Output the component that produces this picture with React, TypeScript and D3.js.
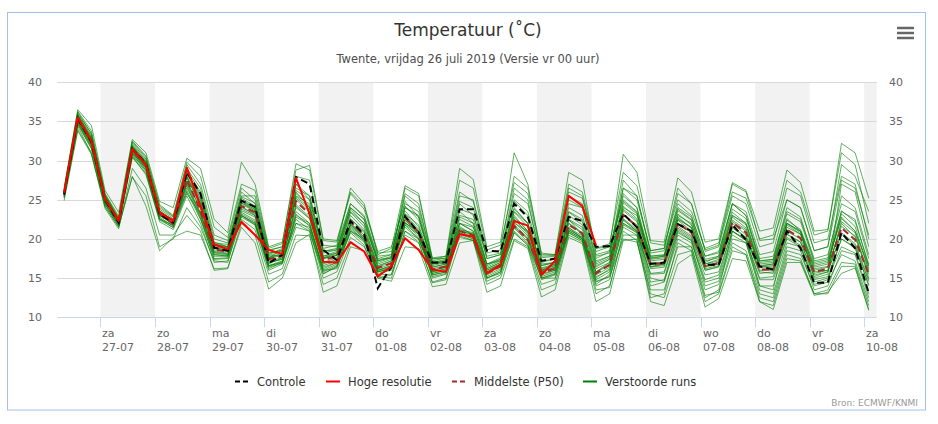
import React, { useEffect, useRef } from 'react';
import * as d3 from 'd3';

// time axis: hours since za 27-07 00:00, one value every 6 hours
const hours = d3.range(-16, 339, 6);

const dayNames = ['za', 'zo', 'ma', 'di', 'wo', 'do', 'vr', 'za', 'zo', 'ma', 'di', 'wo', 'do', 'vr', 'za'];
const dayDates = ['27-07', '28-07', '29-07', '30-07', '31-07', '01-08', '02-08', '03-08', '04-08', '05-08', '06-08', '07-08', '08-08', '09-08', '10-08'];
const yTicks = [10, 15, 20, 25, 30, 35, 40];

const controle = [
  25.7, 35.4, 32.4, 25.0, 22.1, 31.5, 29.6, 23.2, 22.1,
  28.5, 25.8, 18.9, 18.5, 24.9, 24.1, 16.9, 18.0,
  27.9, 27.0, 18.6, 17.3, 22.3, 20.6, 13.7, 16.5,
  22.9, 20.8, 17.0, 17.0, 23.8, 23.8, 18.5, 18.4,
  24.5, 22.8, 17.2, 17.5, 22.8, 22.3, 19.0, 19.1,
  23.2, 21.5, 16.8, 17.0, 21.9, 21.0, 16.7, 16.7,
  21.8, 19.9, 16.5, 16.1, 21.0, 18.8, 14.4, 14.4,
  20.8, 18.8, 13.1,
];

const hogeResolutie = [
  25.9, 35.5, 32.5, 25.1, 22.3, 31.5, 29.5, 23.4, 22.3,
  29.1, 24.2, 19.3, 18.7, 22.2, 20.5, 18.6, 18.1,
  27.8, 23.2, 17.1, 17.0, 19.6, 18.4, 15.2, 16.5,
  20.1, 18.6, 16.1, 15.8, 20.6, 20.3, 15.6, 16.7,
  22.3, 21.7, 15.4, 17.2, 25.5, 24.2, 19.2,
];

const middelste = [
  25.8, 35.3, 32.4, 25.0, 22.2, 31.3, 29.4, 23.2, 21.9,
  27.6, 23.6, 18.6, 18.4, 24.2, 23.4, 17.4, 17.8,
  24.8, 23.2, 17.3, 17.8, 22.2, 20.5, 16.3, 16.9,
  22.8, 20.8, 16.1, 16.5, 21.0, 20.5, 15.6, 16.5,
  21.7, 19.9, 15.7, 16.2, 21.8, 20.7, 15.6, 16.7,
  23.1, 21.6, 16.8, 16.9, 22.0, 20.8, 16.5, 16.9,
  22.1, 20.8, 16.1, 16.1, 21.2, 20.1, 15.8, 16.2,
  21.4, 19.9, 15.5,
];

const verstoordeRuns = [
  [26.2, 36.0, 33.5, 25.6, 22.6, 32.2, 30.2, 24.0, 22.8, 29.5, 27.0, 20.5, 19.8, 26.5, 25.0, 18.5, 19.0, 27.0, 25.5, 18.8, 19.2, 24.5, 22.8, 17.5, 18.0, 25.8, 24.5, 17.2, 17.6, 27.5, 26.5, 18.6, 19.2, 27.2, 25.8, 17.8, 17.9, 26.0, 25.2, 18.8, 19.4, 28.5, 26.8, 19.5, 19.2, 25.0, 23.5, 18.8, 19.5, 26.0, 25.2, 20.0, 20.5, 27.5, 26.0, 20.5, 21.0, 32.2, 31.0, 25.2],
  [25.2, 34.0, 31.0, 24.2, 21.5, 28.0, 24.2, 18.5, 20.2, 21.0, 20.5, 16.2, 16.3, 21.5, 19.5, 13.6, 15.0, 19.5, 20.6, 13.2, 14.0, 19.0, 18.5, 15.0, 14.6, 19.0, 18.8, 13.9, 14.2, 19.5, 19.8, 13.2, 14.0, 19.8, 18.8, 12.6, 13.5, 20.2, 19.4, 12.0, 13.0, 19.8, 20.0, 12.0, 11.5, 16.8, 18.0, 11.3, 12.4, 17.5, 17.2, 12.0, 11.0, 17.0, 17.0, 12.8, 13.2, 15.6, 16.3, 10.9],
  [25.9, 35.6, 32.8, 25.3, 22.4, 31.6, 29.8, 23.6, 22.3, 28.4, 25.0, 19.2, 18.9, 25.0, 24.0, 17.9, 18.4, 25.8, 24.2, 17.8, 18.2, 23.0, 21.2, 16.8, 17.4, 23.6, 21.5, 16.6, 17.0, 22.5, 21.6, 16.4, 17.2, 23.0, 21.0, 16.3, 16.8, 23.0, 21.8, 16.4, 17.4, 24.2, 22.6, 17.4, 17.6, 23.2, 21.8, 17.2, 17.6, 23.4, 22.0, 17.0, 17.2, 22.6, 21.0, 16.6, 17.0, 22.8, 21.0, 16.2],
  [25.6, 35.0, 32.0, 24.8, 22.0, 31.0, 29.0, 22.8, 21.6, 27.0, 23.0, 18.2, 18.0, 23.6, 22.8, 17.0, 17.4, 24.0, 22.6, 16.8, 17.4, 21.6, 20.0, 16.0, 16.6, 22.2, 20.2, 15.8, 16.2, 20.6, 20.0, 15.2, 16.0, 21.0, 19.4, 15.2, 15.8, 21.2, 20.2, 15.0, 16.2, 22.4, 21.0, 16.2, 16.4, 21.4, 20.2, 16.0, 16.4, 21.4, 20.2, 15.6, 15.8, 20.6, 19.6, 15.2, 15.8, 20.8, 19.4, 14.8],
  [26.4, 36.3, 33.8, 25.8, 22.9, 32.5, 30.6, 24.4, 23.0, 29.8, 28.0, 21.5, 20.2, 27.0, 26.2, 18.8, 19.4, 29.6, 28.8, 19.8, 19.6, 25.8, 23.8, 18.2, 18.4, 24.8, 22.8, 16.8, 17.2, 24.5, 23.0, 17.8, 18.2, 24.8, 23.0, 16.0, 16.2, 22.5, 20.5, 14.5, 15.2, 21.5, 20.5, 14.0, 14.5, 20.0, 19.0, 13.5, 14.2, 19.5, 18.5, 13.0, 12.5, 18.5, 18.0, 14.0, 14.5, 18.0, 17.2, 12.0],
  [25.4, 34.6, 31.5, 24.4, 21.8, 30.4, 28.4, 22.2, 21.2, 25.5, 22.0, 17.0, 17.2, 22.5, 21.2, 15.5, 16.2, 21.5, 21.0, 15.0, 15.8, 20.2, 19.0, 15.4, 15.5, 20.5, 19.5, 14.5, 15.0, 21.0, 20.2, 15.0, 15.6, 22.0, 21.0, 16.0, 16.8, 24.5, 24.0, 17.5, 18.4, 26.5, 25.0, 18.5, 18.8, 26.5, 24.5, 18.6, 19.2, 27.0, 26.0, 19.8, 20.0, 25.0, 24.0, 18.5, 19.0, 27.5, 26.5, 20.5],
  [25.8, 35.4, 32.6, 25.2, 22.2, 31.8, 29.6, 23.0, 22.0, 28.8, 26.0, 19.6, 19.0, 26.0, 24.5, 17.6, 18.6, 26.5, 25.5, 18.4, 18.8, 24.0, 22.5, 17.4, 17.6, 26.5, 25.5, 17.4, 17.8, 29.0, 27.6, 19.0, 19.6, 31.0, 27.0, 18.0, 18.0, 28.5, 27.5, 18.0, 18.5, 25.5, 24.0, 17.0, 17.0, 22.5, 21.5, 16.0, 16.5, 22.0, 20.5, 16.0, 16.0, 21.0, 20.0, 15.8, 16.0, 22.0, 20.2, 15.5],
  [25.5, 35.0, 32.2, 25.0, 22.0, 30.8, 28.8, 22.5, 21.8, 26.5, 23.4, 18.0, 17.8, 24.2, 23.0, 16.6, 17.0, 22.8, 21.8, 15.8, 16.6, 21.0, 19.6, 15.6, 16.0, 21.5, 20.0, 15.2, 15.6, 20.2, 19.8, 14.2, 15.0, 20.0, 19.0, 13.5, 14.2, 20.5, 19.6, 13.0, 14.0, 20.5, 20.5, 13.0, 12.5, 18.0, 18.5, 12.0, 13.0, 18.5, 18.0, 12.5, 12.0, 18.0, 17.5, 13.0, 13.5, 17.0, 16.8, 11.5],
  [26.0, 35.8, 33.0, 25.4, 22.4, 32.0, 30.0, 23.8, 22.6, 29.0, 26.5, 20.0, 19.5, 25.5, 25.5, 18.6, 19.0, 28.0, 27.5, 19.2, 19.0, 26.5, 24.5, 18.0, 18.8, 26.8, 25.8, 17.6, 17.8, 26.0, 24.8, 17.5, 18.0, 26.5, 25.0, 17.0, 17.5, 25.5, 24.5, 17.8, 18.2, 27.5, 25.5, 18.2, 18.5, 24.0, 22.8, 17.8, 18.4, 24.5, 23.0, 17.5, 17.8, 23.5, 22.5, 17.5, 18.0, 24.5, 23.5, 17.5],
  [24.9, 33.8, 30.8, 23.9, 21.3, 29.0, 26.5, 20.5, 20.5, 23.0, 21.0, 16.0, 16.2, 22.0, 20.5, 14.5, 15.5, 20.5, 20.4, 14.2, 15.0, 19.5, 18.4, 15.2, 15.0, 21.0, 20.0, 15.6, 16.0, 21.0, 20.6, 15.8, 16.6, 21.6, 20.0, 15.8, 16.4, 22.0, 20.8, 15.8, 16.8, 23.0, 21.8, 16.8, 16.8, 22.0, 20.8, 16.6, 17.0, 22.2, 21.0, 16.4, 16.4, 21.5, 20.6, 16.0, 16.4, 21.6, 20.4, 15.8],
  [26.1, 35.9, 33.2, 25.5, 22.5, 31.9, 29.9, 23.5, 22.4, 28.0, 24.5, 19.0, 18.8, 24.8, 23.8, 17.6, 18.2, 25.0, 23.5, 17.5, 17.9, 22.5, 21.0, 16.5, 17.2, 23.2, 21.8, 16.4, 16.8, 22.0, 21.0, 16.0, 16.8, 22.5, 20.8, 16.0, 16.6, 22.5, 21.5, 16.2, 17.0, 24.0, 23.0, 17.5, 17.8, 24.5, 23.0, 17.8, 18.2, 24.5, 23.5, 18.0, 18.4, 25.0, 24.0, 18.5, 19.0, 29.5, 28.0, 23.5],
  [25.7, 35.2, 32.2, 24.9, 22.1, 31.2, 29.2, 23.0, 21.9, 27.2, 24.0, 18.4, 18.2, 23.0, 22.0, 16.8, 17.6, 23.5, 22.0, 16.2, 17.0, 22.0, 20.5, 16.2, 16.8, 22.5, 20.5, 16.0, 16.4, 21.2, 20.4, 15.6, 16.4, 21.8, 20.2, 15.0, 15.5, 21.0, 20.0, 14.2, 15.5, 22.0, 21.0, 15.0, 14.6, 20.5, 19.5, 14.5, 15.0, 20.5, 19.5, 14.0, 14.0, 19.5, 19.0, 14.5, 15.0, 19.0, 18.2, 13.0],
  [26.3, 36.2, 33.4, 25.7, 22.7, 32.4, 30.4, 24.2, 22.9, 28.2, 25.8, 19.5, 19.3, 25.2, 24.2, 18.0, 18.8, 26.0, 24.0, 17.8, 18.4, 23.5, 22.0, 17.2, 17.8, 24.0, 23.0, 17.0, 17.4, 23.5, 22.0, 16.8, 17.6, 25.0, 23.5, 17.2, 17.4, 26.5, 25.5, 18.4, 19.0, 30.8, 28.5, 19.8, 19.6, 27.8, 26.0, 19.6, 20.0, 27.2, 26.2, 21.0, 21.4, 28.8, 27.2, 21.0, 21.2, 31.0, 29.5, 22.0],
  [25.3, 34.4, 30.9, 24.1, 21.6, 27.9, 25.5, 19.0, 20.0, 24.0, 21.5, 17.2, 17.0, 23.0, 21.8, 16.0, 16.8, 22.0, 21.5, 16.0, 16.2, 21.0, 20.0, 15.8, 16.2, 22.0, 21.0, 15.4, 15.8, 22.0, 21.5, 16.2, 17.0, 23.5, 22.0, 16.6, 17.0, 23.5, 22.5, 16.8, 17.6, 22.5, 21.0, 15.5, 15.6, 21.0, 19.8, 14.8, 15.4, 21.0, 19.8, 14.8, 14.8, 20.0, 19.0, 14.2, 14.8, 20.0, 19.0, 14.0],
  [26.5, 36.5, 34.5, 26.2, 23.4, 32.7, 31.0, 24.8, 24.0, 30.3, 29.0, 22.5, 20.8, 29.8, 27.0, 19.0, 19.6, 28.8, 29.4, 20.0, 19.8, 26.0, 24.2, 18.4, 19.0, 24.5, 23.5, 17.0, 17.2, 25.5, 25.0, 18.2, 18.6, 28.0, 26.5, 18.2, 18.0, 27.0, 26.0, 18.8, 19.0, 25.0, 23.5, 16.5, 16.8, 23.0, 22.0, 16.5, 17.0, 23.0, 22.0, 16.5, 16.8, 22.0, 21.0, 16.2, 16.5, 23.5, 22.5, 16.5],
  [25.9, 35.5, 32.5, 25.1, 22.3, 31.2, 29.2, 23.1, 22.0, 26.0, 22.5, 17.5, 17.6, 23.2, 22.2, 16.2, 17.0, 23.0, 22.0, 16.0, 16.8, 21.2, 19.8, 15.4, 16.2, 22.0, 21.0, 15.0, 15.5, 23.0, 22.5, 16.8, 17.2, 24.0, 22.0, 15.0, 15.0, 21.0, 20.0, 13.5, 13.8, 21.0, 19.8, 12.5, 13.0, 19.5, 18.5, 12.5, 13.5, 21.0, 20.0, 14.0, 13.5, 22.0, 21.0, 15.0, 15.5, 27.0, 26.0, 19.0],
  [25.8, 35.2, 32.2, 24.8, 22.0, 31.0, 29.0, 23.0, 22.0, 28.0, 24.8, 18.8, 18.6, 24.6, 23.6, 17.8, 18.0, 25.5, 24.5, 17.6, 18.2, 24.0, 22.5, 17.0, 17.6, 24.0, 22.8, 16.8, 17.0, 23.8, 23.2, 16.8, 17.4, 23.8, 22.0, 16.8, 17.0, 24.0, 23.0, 17.0, 17.8, 25.8, 24.0, 17.8, 18.0, 23.8, 22.5, 17.0, 17.8, 24.5, 23.0, 17.2, 17.4, 24.0, 22.8, 17.2, 17.6, 25.5, 24.0, 18.0],
  [25.6, 34.8, 31.8, 24.6, 21.9, 30.6, 28.6, 22.6, 21.4, 26.2, 22.8, 17.4, 17.5, 23.4, 22.4, 16.5, 17.1, 22.5, 21.2, 15.5, 16.5, 20.8, 19.2, 15.0, 15.4, 21.0, 19.6, 14.4, 14.8, 20.8, 20.0, 14.6, 15.4, 20.8, 19.2, 14.2, 14.8, 20.8, 19.8, 14.0, 14.8, 21.8, 20.8, 14.5, 14.8, 20.8, 19.8, 14.0, 14.6, 20.0, 19.5, 13.5, 13.0, 19.0, 18.5, 13.5, 14.0, 18.5, 18.0, 12.5],
  [26.0, 35.7, 32.9, 25.4, 22.5, 31.7, 29.7, 23.4, 22.5, 28.6, 25.5, 19.3, 19.0, 24.8, 24.0, 18.2, 18.5, 27.0, 25.0, 18.5, 18.6, 24.5, 23.0, 17.8, 18.0, 25.5, 24.0, 17.5, 17.5, 24.8, 24.0, 17.5, 18.0, 25.8, 24.5, 17.6, 17.8, 25.0, 24.0, 17.2, 17.8, 26.5, 25.5, 18.5, 18.8, 25.8, 24.5, 18.4, 19.0, 25.5, 24.5, 19.0, 19.5, 26.5, 25.5, 19.5, 20.0, 28.0, 27.0, 20.0],
  [25.5, 34.9, 31.8, 24.5, 21.7, 30.5, 28.2, 22.4, 21.5, 25.8, 23.2, 17.8, 17.8, 23.0, 22.0, 16.6, 17.2, 22.0, 21.0, 15.6, 16.4, 21.8, 20.2, 16.0, 16.4, 21.8, 20.6, 15.4, 15.8, 21.6, 20.4, 15.0, 15.8, 21.5, 20.0, 14.8, 15.4, 21.5, 20.0, 14.6, 15.2, 20.0, 19.6, 13.5, 13.5, 19.0, 19.0, 12.8, 13.2, 19.0, 18.0, 12.0, 11.5, 17.5, 17.2, 13.0, 13.0, 16.5, 16.5, 11.0],
  [25.7, 35.1, 32.1, 24.9, 22.1, 31.1, 29.1, 23.1, 22.0, 27.4, 23.8, 18.3, 18.1, 24.0, 23.2, 17.2, 17.6, 24.4, 22.8, 17.0, 17.6, 22.6, 20.8, 16.4, 17.0, 23.2, 21.2, 16.2, 16.6, 21.4, 20.6, 15.4, 16.2, 22.2, 20.4, 15.4, 16.0, 22.4, 21.2, 15.8, 16.6, 23.6, 22.2, 16.4, 16.6, 22.6, 21.4, 16.8, 17.2, 22.8, 21.4, 16.4, 16.6, 21.8, 20.6, 15.6, 16.0, 22.2, 20.8, 15.0],
  [26.0, 35.5, 32.6, 25.2, 22.3, 31.4, 29.5, 23.3, 22.1, 27.8, 24.4, 18.9, 18.6, 24.6, 23.8, 17.6, 18.0, 25.2, 23.8, 17.6, 18.0, 22.0, 20.2, 16.0, 16.6, 22.4, 20.6, 15.8, 16.2, 20.8, 20.2, 15.8, 16.8, 21.4, 19.6, 15.9, 16.4, 21.4, 20.4, 15.4, 16.4, 22.6, 21.2, 16.4, 16.8, 21.6, 20.4, 16.2, 16.6, 21.6, 20.2, 15.8, 15.6, 20.6, 19.6, 15.4, 15.8, 20.6, 19.2, 14.6],
  [25.6, 35.2, 32.3, 25.0, 22.1, 31.3, 29.3, 23.1, 21.8, 27.2, 23.2, 18.6, 18.4, 24.4, 23.6, 17.5, 17.9, 25.4, 24.0, 17.5, 17.9, 23.4, 21.6, 16.6, 17.2, 23.0, 21.0, 16.4, 16.8, 22.0, 21.0, 16.0, 16.8, 22.8, 21.0, 16.2, 16.6, 22.0, 20.6, 15.2, 16.0, 23.8, 22.4, 17.2, 17.4, 22.8, 21.4, 16.8, 17.4, 23.0, 21.8, 16.6, 16.8, 22.0, 20.8, 16.4, 16.8, 23.2, 21.6, 16.0],
  [25.9, 35.4, 32.5, 25.1, 22.2, 31.5, 29.6, 23.4, 22.2, 27.9, 24.2, 18.8, 18.5, 23.8, 23.0, 17.0, 17.4, 24.2, 22.6, 16.6, 17.2, 21.8, 20.0, 15.8, 16.4, 22.6, 20.8, 16.0, 16.4, 21.2, 20.8, 16.2, 17.0, 22.6, 20.6, 15.6, 16.0, 21.2, 20.2, 15.8, 17.0, 24.6, 23.2, 17.6, 17.8, 22.4, 21.0, 16.4, 16.8, 22.4, 21.2, 16.8, 17.0, 22.4, 21.2, 16.8, 17.2, 22.6, 21.0, 16.6],
  [25.4, 34.7, 31.6, 24.5, 21.8, 30.8, 28.8, 22.6, 21.7, 26.8, 22.6, 18.0, 17.9, 22.8, 21.8, 16.4, 16.9, 23.2, 21.6, 16.4, 17.0, 21.4, 19.8, 15.8, 16.2, 21.8, 20.0, 15.6, 16.0, 20.4, 19.8, 15.0, 15.8, 20.8, 19.2, 15.0, 15.6, 20.8, 19.8, 14.8, 15.8, 22.0, 20.8, 15.6, 15.8, 21.2, 20.0, 15.4, 15.8, 21.0, 19.8, 15.0, 15.2, 20.2, 19.2, 14.8, 15.2, 20.0, 18.8, 14.2],
  [26.1, 35.8, 32.9, 25.4, 22.5, 31.8, 29.8, 23.6, 22.4, 28.6, 25.2, 19.4, 19.0, 25.4, 24.6, 18.2, 18.6, 26.2, 25.0, 18.2, 18.6, 23.8, 22.0, 17.2, 17.6, 24.2, 22.4, 16.8, 17.2, 22.8, 22.0, 16.6, 17.4, 23.4, 21.6, 16.6, 17.0, 23.4, 22.2, 16.6, 17.4, 24.8, 23.4, 17.8, 17.9, 23.6, 22.4, 17.4, 17.8, 23.8, 22.6, 17.2, 17.4, 23.2, 22.2, 17.0, 17.4, 23.6, 22.2, 16.8],
];

const legendItems = [
  { label: 'Controle', color: '#000000', dash: '5,3', sx: 235, tx: 257 },
  { label: 'Hoge resolutie', color: '#ff0000', dash: null, sx: 326, tx: 348 },
  { label: 'Middelste (P50)', color: '#a52a2a', dash: '5,3', sx: 452, tx: 474 },
  { label: 'Verstoorde runs', color: '#008000', dash: null, sx: 583, tx: 605 },
];

const font = '"DejaVu Sans", Verdana, sans-serif';

export default function App() {
  const chartRef = useRef<SVGSVGElement>(null);

  useEffect(() => {
    if (!chartRef.current) return;
    const svg = d3.select(chartRef.current);
    svg.selectAll('*').remove();

    const left = 57.3, right = 876.7, top = 82.3, bottom = 317.3;
    const x = d3.scaleLinear().domain([-19, 341.5]).range([left, right]);
    const y = d3.scaleLinear().domain([10, 40]).range([bottom, top]);

    svg.append('rect').attr('width', 938).attr('height', 424).attr('fill', '#ffffff');
    svg.append('rect')
      .attr('x', 7.5).attr('y', 12.5).attr('width', 918).attr('height', 397.5)
      .attr('fill', 'none').attr('stroke', '#a3c0ea').attr('stroke-width', 1);

    // alternating day bands
    dayDates.forEach((_, d) => {
      if (d % 2 !== 0) return;
      const x0 = x(Math.max(d * 24, -19));
      const x1 = x(Math.min((d + 1) * 24, 341.5));
      svg.append('rect')
        .attr('x', x0).attr('y', top).attr('width', x1 - x0).attr('height', bottom - top)
        .attr('fill', '#f2f2f2');
    });

    // grid
    svg.append('g').selectAll('line').data(yTicks.filter(t => t > 10)).enter().append('line')
      .attr('x1', left).attr('x2', right)
      .attr('y1', d => Math.round(y(d)) + 0.5).attr('y2', d => Math.round(y(d)) + 0.5)
      .attr('stroke', '#d9d9d9').attr('stroke-width', 1);

    svg.append('line')
      .attr('x1', left).attr('x2', right)
      .attr('y1', Math.round(y(10)) + 0.5).attr('y2', Math.round(y(10)) + 0.5)
      .attr('stroke', '#ccd6eb');

    // y labels left and right
    const yl = svg.append('g').attr('font-family', font).attr('font-size', 11).attr('fill', '#666666');
    yTicks.forEach(t => {
      yl.append('text').attr('x', 42).attr('y', y(t) + 4).attr('text-anchor', 'end').text(t);
      yl.append('text').attr('x', 889).attr('y', y(t) + 4).attr('text-anchor', 'start').text(t);
    });

    // x ticks and labels
    const xl = svg.append('g').attr('font-family', font).attr('font-size', 11).attr('fill', '#666666');
    dayDates.forEach((date, d) => {
      const px = Math.round(x(d * 24)) + 0.5;
      svg.append('line').attr('x1', px).attr('x2', px).attr('y1', bottom).attr('y2', bottom + 10)
        .attr('stroke', '#ccd6eb');
      xl.append('text').attr('x', px + 1.5).attr('y', 337).text(dayNames[d]);
      xl.append('text').attr('x', px + 1.5).attr('y', 350.5).text(date);
    });

    const line = d3.line<number>()
      .x((_, i) => x(hours[i]))
      .y(d => y(d));

    const runs = svg.append('g');
    verstoordeRuns.forEach(run => {
      runs.append('path').attr('d', line(run) as string)
        .attr('fill', 'none').attr('stroke', '#008000').attr('stroke-width', 1)
        .attr('stroke-opacity', 0.62).attr('stroke-linejoin', 'round');
    });

    svg.append('path').attr('d', line(middelste) as string)
      .attr('fill', 'none').attr('stroke', '#a52a2a').attr('stroke-width', 2)
      .attr('stroke-dasharray', '7,4');
    svg.append('path').attr('d', line(controle) as string)
      .attr('fill', 'none').attr('stroke', '#000000').attr('stroke-width', 2)
      .attr('stroke-dasharray', '7,4');
    svg.append('path').attr('d', line(hogeResolutie) as string)
      .attr('fill', 'none').attr('stroke', '#ff0000').attr('stroke-width', 2)
      .attr('stroke-linejoin', 'round');

    // titles
    svg.append('text').attr('x', 468).attr('y', 36).attr('text-anchor', 'middle')
      .attr('font-family', font).attr('font-size', 17).attr('fill', '#333333')
      .text('Temperatuur (˚C)');
    svg.append('text').attr('x', 468).attr('y', 63).attr('text-anchor', 'middle')
      .attr('font-family', font).attr('font-size', 11.5).attr('fill', '#4d4d4d')
      .text('Twente, vrijdag 26 juli 2019 (Versie vr 00 uur)');

    // legend
    const lg = svg.append('g').attr('font-family', font).attr('font-size', 11.5).attr('fill', '#333333');
    legendItems.forEach(item => {
      const l = lg.append('line').attr('x1', item.sx).attr('x2', item.sx + 14)
        .attr('y1', 381.5).attr('y2', 381.5)
        .attr('stroke', item.color).attr('stroke-width', 2);
      if (item.dash) l.attr('stroke-dasharray', item.dash);
      lg.append('text').attr('x', item.tx).attr('y', 385.5).text(item.label);
    });

    // credits
    svg.append('text').attr('x', 918).attr('y', 406).attr('text-anchor', 'end')
      .attr('font-family', font).attr('font-size', 9).attr('fill', '#999999')
      .text('Bron: ECMWF/KNMI');

    // menu icon
    [28, 33, 38].forEach(yy => {
      svg.append('line').attr('x1', 897).attr('x2', 914).attr('y1', yy).attr('y2', yy)
        .attr('stroke', '#666666').attr('stroke-width', 2.5);
    });
  }, []);

  return (
    <div style={{ position: 'absolute', left: 0, top: 0 }}>
      <svg ref={chartRef} width={938} height={424}></svg>
    </div>
  );
}
